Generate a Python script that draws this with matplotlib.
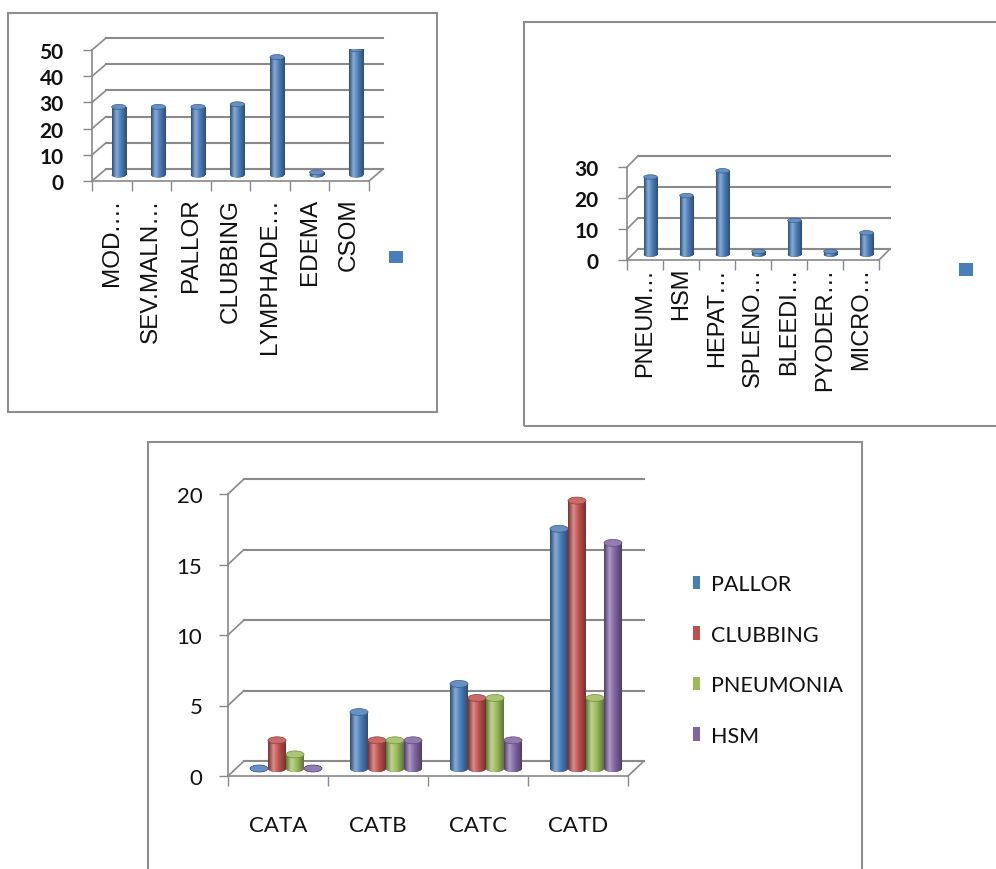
import numpy as np
import matplotlib
matplotlib.use("Agg")
import matplotlib.pyplot as plt
from matplotlib.patches import Ellipse, Rectangle, Patch
from matplotlib.colors import LinearSegmentedColormap, to_rgb

W, H = 996, 870

# clinical signs (top left)
signs = ["MOD.…", "SEV.MALN…", "PALLOR", "CLUBBING", "LYMPHADE…", "EDEMA", "CSOM"]
sign_counts = [26, 26, 26, 27, 45, 1, 48]

# complications (top right)
compl = ["PNEUM…", "HSM", "HEPAT…", "SPLENO…", "BLEEDI…", "PYODER…", "MICRO…"]
compl_counts = [25, 19, 27, 1, 11, 1, 7]

# findings by category (bottom)
cats = ["CATA", "CATB", "CATC", "CATD"]
findings = ["PALLOR", "CLUBBING", "PNEUMONIA", "HSM"]
pallor = [0, 4, 6, 17]
clubbing = [2, 2, 5, 19]
pneumonia = [1, 2, 5, 5]
hsm = [0, 2, 2, 16]

BLUE = "#4a7ebb"
RED = "#c0504d"
GREEN = "#9bbb59"
PURPLE = "#8064a2"
GRID = "#8a8a8a"
INK = "#111111"


def shade_cmap(color):
    c = np.array(to_rgb(color))
    dark = c * 0.62
    light = c + (1 - c) * 0.35
    return LinearSegmentedColormap.from_list(
        "cyl", [(0, dark), (0.3, light), (0.6, c), (1, dark)])


def cylinders(ax, xs, vals, width, base, cap, color):
    # plain bars first, then a shaded image clipped to each one
    bars = ax.bar(xs, vals, width=width, bottom=base, color=color,
                  linewidth=0, zorder=3)
    cmap = shade_cmap(color)
    c = np.array(to_rgb(color))
    grad = np.linspace(0, 1, 100).reshape(1, -1)
    for bar, v in zip(bars, vals):
        x0 = bar.get_x()
        xc = x0 + width / 2
        foot = Ellipse((xc, base), width, cap, color=c * 0.6, lw=0, zorder=2.9)
        ax.add_patch(foot)
        for clip, z in ((bar, 3.1), (foot, 2.95)):
            im = ax.imshow(grad, cmap=cmap, aspect="auto", zorder=z,
                           extent=(x0, x0 + width, base - cap, base + v + cap),
                           interpolation="bilinear")
            im.set_clip_path(clip)
        lid = Ellipse((xc, base + v), width, cap, facecolor=c + (1 - c) * 0.15,
                      edgecolor=c * 0.75, lw=0.5, zorder=3.2)
        ax.add_patch(lid)


def panel(fig, x0, x1, y0, ytop, n, ymax, step, dx, dy):
    # axes whose data box is the front face of the 3D plot
    ax = fig.add_axes([x0 / W, 1 - y0 / H, (x1 - x0) / W, (y0 - ytop) / H])
    ax.set_facecolor("none")
    pxcat = (x1 - x0) / n
    pxunit = (y0 - ytop) / ymax
    ox, oy = dx / pxcat, dy / pxunit
    ticks = np.arange(0, ymax + 0.1, step)
    for v in ticks:
        ax.plot([0, ox], [v, v + oy], color=GRID, lw=1.2, clip_on=False, zorder=1)
        ax.plot([ox, n + ox], [v + oy, v + oy], color=GRID, lw=1.5,
                clip_on=False, zorder=1)
    ax.plot([n, n + ox], [0, oy], color=GRID, lw=1.2, clip_on=False, zorder=1)
    for s in ("top", "right"):
        ax.spines[s].set_visible(False)
    for s in ("left", "bottom"):
        ax.spines[s].set_color(GRID)
        ax.spines[s].set_linewidth(1.2)
    ax.set_yticks(ticks)
    ax.set_yticklabels([str(int(t)) for t in ticks])
    ax.set_xticks(np.arange(n + 1))
    ax.set_xticklabels([])
    ax.set_xticks(np.arange(n) + 0.5, minor=True)
    ax.tick_params(axis="y", length=6.5, color=GRID, width=1, labelcolor=INK)
    ax.tick_params(axis="x", which="major", length=7.5, color=GRID, width=1)
    ax.tick_params(axis="x", which="minor", length=0, labelcolor=INK)
    return ax, ox, oy, pxunit


fig = plt.figure(figsize=(W / 100, H / 100), dpi=100)
fig.patch.set_facecolor("white")

# outer frames
for (fx0, fy0, fx1, fy1) in [(8, 14, 437, 413), (524, 23, 1003, 427),
                             (148, 443, 862, 880)]:
    fig.add_artist(Rectangle((fx0 / W, 1 - fy1 / H), (fx1 - fx0) / W,
                             (fy1 - fy0) / H, transform=fig.transFigure,
                             fill=False, ec="#8e8e8e", lw=1.5))

# top left
ax1, ox, oy, pu = panel(fig, 92, 369, 182, 51, 7, 50, 10, 14, 12)
cylinders(ax1, np.arange(7) + 0.5 + ox / 2, sign_counts, 0.36, oy / 2,
          5 / pu, BLUE)
ax1.set_xticklabels(signs, minor=True, rotation=90, fontsize=17.5,
                    fontfamily="Liberation Sans")
ax1.tick_params(axis="x", which="minor", pad=12)
ax1.tick_params(axis="y", pad=14, labelsize=15)
for t in ax1.get_yticklabels():
    t.set_fontfamily("Lato")
    t.set_fontweight("bold")
ax1.set_xlim(0, 7)
ax1.set_ylim(0, 50)
ax1.legend([Patch(fc=BLUE)], [""], loc="center",
           bbox_to_anchor=(396 / W, 1 - 259 / H), bbox_transform=fig.transFigure,
           frameon=False, handlelength=1, handleheight=1, handletextpad=0,
           borderpad=0, fontsize=10)

# top right
ax2, ox, oy, pu = panel(fig, 627, 879, 261, 168, 7, 30, 10, 11, 11)
cylinders(ax2, np.arange(7) + 0.5 + ox / 2, compl_counts, 0.38, oy / 2,
          4.5 / pu, BLUE)
ax2.set_xticklabels(compl, minor=True, rotation=90, fontsize=17,
                    fontfamily="Liberation Sans")
ax2.tick_params(axis="x", which="minor", pad=5)
ax2.tick_params(axis="y", pad=14, labelsize=15)
for t in ax2.get_yticklabels():
    t.set_fontfamily("Lato")
    t.set_fontweight("bold")
ax2.set_xlim(0, 7)
ax2.set_ylim(0, 30)
ax2.legend([Patch(fc=BLUE)], [""], loc="center",
           bbox_to_anchor=(966 / W, 1 - 271 / H), bbox_transform=fig.transFigure,
           frameon=False, handlelength=1.05, handleheight=1.05, handletextpad=0,
           borderpad=0, fontsize=10)

# bottom
ax3, ox, oy, pu = panel(fig, 228, 628, 777, 495, 4, 20, 5, 16, 15)
bw = 0.18
series = [(pallor, BLUE), (clubbing, RED), (pneumonia, GREEN), (hsm, PURPLE)]
for k, (vals, col) in enumerate(series):
    xs = np.arange(4) + 0.5 + ox / 2 + (k - 1.5) * bw
    cylinders(ax3, xs, vals, bw, oy / 2, 7 / pu, col)
ax3.set_xticklabels(cats, minor=True, fontsize=16, fontfamily="Lato")
ax3.tick_params(axis="x", which="minor", pad=28)
ax3.tick_params(axis="y", pad=12, labelsize=16)
for t in ax3.get_yticklabels():
    t.set_fontfamily("Lato")
ax3.set_xlim(0, 4)
ax3.set_ylim(0, 20)
leg = ax3.legend([Patch(fc=c) for _, c in series], findings, loc="upper left",
                 bbox_to_anchor=(693 / W, 1 - 575 / H),
                 bbox_transform=fig.transFigure, frameon=False, fontsize=15.5,
                 handlelength=0.34, handleheight=0.58, handletextpad=0.5,
                 labelspacing=1.42, borderpad=0, borderaxespad=0)
for t in leg.get_texts():
    t.set_fontfamily("Lato")
    t.set_color(INK)

fig.savefig("out.png", dpi=100, facecolor="white")
